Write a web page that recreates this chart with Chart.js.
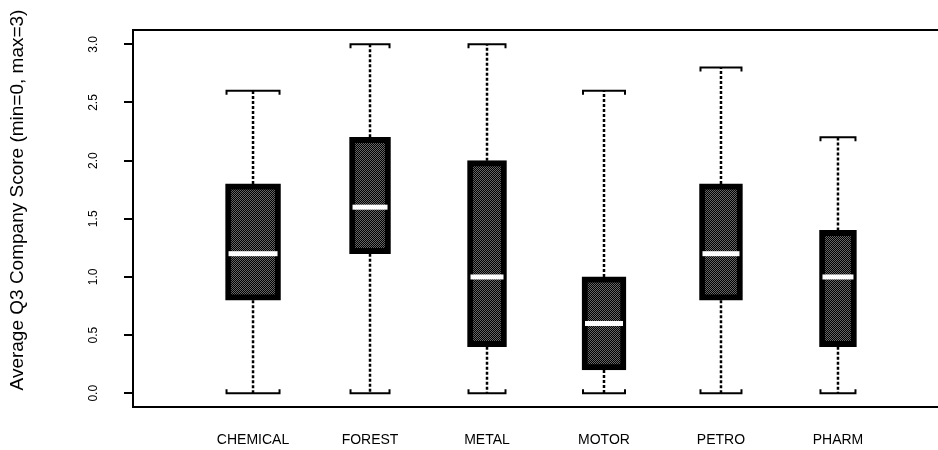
<!DOCTYPE html>
<html><head><meta charset="utf-8">
<script src="https://cdn.jsdelivr.net/npm/chart.js@4.4.1/dist/chart.umd.min.js"></script>
<style>html,body{margin:0;padding:0;background:#fff;overflow:hidden}</style>
</head><body>
<canvas id="c" width="938" height="450" style="width:938px;height:450px;display:block"></canvas>
<script>
const categories = ['CHEMICAL','FOREST','METAL','MOTOR','PETRO','PHARM'];
const whiskerLow  = [0.0, 0.0, 0.0, 0.0, 0.0, 0.0];
const q1          = [0.8, 1.2, 0.4, 0.2, 0.8, 0.4];
const medians     = [1.2, 1.6, 1.0, 0.6, 1.2, 1.0];
const q3          = [1.8, 2.2, 2.0, 1.0, 1.8, 1.4];
const whiskerHigh = [2.6, 3.0, 3.0, 2.6, 2.8, 2.2];
const sampleSizes = [20, 11, 10, 13, 12, 9];
const yTicks = [0, 0.5, 1.0, 1.5, 2.0, 2.5, 3.0];
const yTitle = 'Average Q3 Company Score (min=0, max=3)';

const FONT = '"Liberation Sans", Arial, Helvetica, sans-serif';
Chart.defaults.font.family = FONT;
Chart.defaults.color = '#000';

const canvas = document.getElementById('c');
const ctx = canvas.getContext('2d');

// dithered dark fill like the scanned halftone
const pc = document.createElement('canvas'); pc.width = 2; pc.height = 2;
const pctx = pc.getContext('2d');
pctx.fillStyle = '#000'; pctx.fillRect(0, 0, 2, 2);
pctx.fillStyle = '#666'; pctx.fillRect(0, 0, 1, 1); pctx.fillRect(1, 1, 1, 1);
const pattern = ctx.createPattern(pc, 'repeat');

const datasets = categories.map((c, i) => ({
  label: c,
  data: [{ x: i + 1, y: [q1[i], q3[i]] }],
  backgroundColor: pattern,
  borderColor: '#000',
  borderWidth: 6,
  borderSkipped: false,
  barThickness: Math.round(12.3 * Math.sqrt(sampleSizes[i])),
  grouped: false
}));

const boxPlugin = {
  id: 'boxParts',
  afterDatasetsDraw(chart) {
    const c = chart.ctx, ys = chart.scales.y;
    c.save();
    categories.forEach((cat, i) => {
      const el = chart.getDatasetMeta(i).data[0];
      const x = el.x, w = el.width;
      const yq1 = ys.getPixelForValue(q1[i]), yq3 = ys.getPixelForValue(q3[i]);
      const ylo = ys.getPixelForValue(whiskerLow[i]), yhi = ys.getPixelForValue(whiskerHigh[i]);
      const ymed = ys.getPixelForValue(medians[i]);
      c.strokeStyle = '#000';
      c.lineWidth = 2.5;
      c.setLineDash([3, 2]);
      c.beginPath();
      c.moveTo(x, yq3); c.lineTo(x, yhi);
      c.moveTo(x, yq1); c.lineTo(x, ylo);
      c.stroke();
      c.setLineDash([]);
      c.lineWidth = 2;
      const l = x - w / 2 + 1, r = x + w / 2 - 1;
      c.beginPath();
      c.moveTo(l, yhi + 4); c.lineTo(l, yhi); c.lineTo(r, yhi); c.lineTo(r, yhi + 4);
      c.moveTo(l, ylo - 4); c.lineTo(l, ylo); c.lineTo(r, ylo); c.lineTo(r, ylo - 4);
      c.stroke();
      c.fillStyle = '#fff';
      c.fillRect(x - w / 2 + 3, ymed - 2.5, w - 6, 5);
    });
    c.restore();
  },
  afterDraw(chart) {
    const c = chart.ctx, a = chart.chartArea, ys = chart.scales.y;
    c.save();
    c.strokeStyle = '#000';
    c.lineWidth = 2;
    c.beginPath();
    c.moveTo(a.right, a.top); c.lineTo(a.left, a.top); c.lineTo(a.left, a.bottom); c.lineTo(a.right, a.bottom);
    c.stroke();
    c.fillStyle = '#000';
    c.font = '12px ' + FONT;
    c.textAlign = 'center';
    c.textBaseline = 'middle';
    ys.ticks.forEach(t => {
      const y = ys.getPixelForValue(t.value);
      c.save();
      c.translate(94, y);
      c.rotate(-Math.PI / 2);
      c.fillText(t.value.toFixed(1), 0, 0);
      c.restore();
    });
    c.font = '19px ' + FONT;
    c.save();
    c.translate(18, 200);
    c.rotate(-Math.PI / 2);
    c.fillText(yTitle, 0, 0);
    c.restore();
    c.restore();
  }
};

new Chart(ctx, {
  type: 'bar',
  data: { datasets },
  options: {
    responsive: false,
    animation: false,
    layout: { padding: { top: 30, left: 0, right: 0, bottom: 0 } },
    plugins: { legend: { display: false }, tooltip: { enabled: false }, title: { display: false } },
    scales: {
      x: {
        type: 'linear', min: -0.026, max: 6.855, offset: false,
        afterBuildTicks: s => { s.ticks = categories.map((c, i) => ({ value: i + 1 })); },
        afterFit: s => { s.height = 43; },
        grid: { display: false, drawTicks: false },
        border: { display: false },
        ticks: {
          callback: v => categories[Math.round(v) - 1],
          color: '#000', font: { size: 14 }, padding: 25,
          maxRotation: 0, minRotation: 0, autoSkip: false
        }
      },
      y: {
        type: 'linear', min: -0.118, max: 3.123,
        afterBuildTicks: s => { s.ticks = yTicks.map(v => ({ value: v })); },
        afterFit: s => { s.width = 133; },
        grid: { drawOnChartArea: false, drawTicks: true, tickLength: 9, color: '#000', lineWidth: 2 },
        border: { display: false },
        ticks: { display: false }
      }
    }
  },
  plugins: [boxPlugin]
});
</script>
</body></html>
